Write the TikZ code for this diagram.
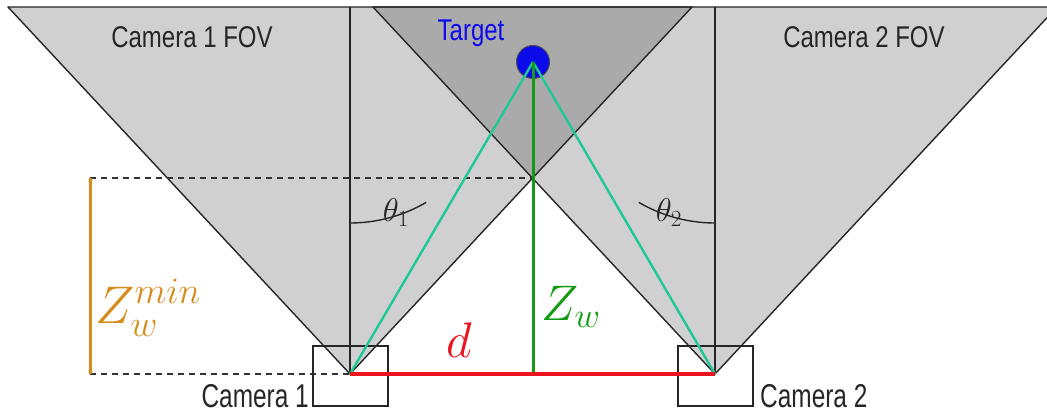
\RequirePackage{fix-cm}
\documentclass[tikz,border=0pt]{standalone}
\usepackage{fontspec}
\usetikzlibrary{calc}
\newfontfamily\lab{Liberation Sans}[FakeStretch=0.8]
\newfontfamily\labn{Liberation Sans}[FakeStretch=0.74]
\definecolor{lgrey}{RGB}{208,208,208}
\definecolor{dgrey}{RGB}{170,170,170}
\definecolor{teal2}{RGB}{32,200,150}
\definecolor{grn}{RGB}{20,155,20}
\definecolor{rd}{RGB}{235,20,30}
\definecolor{orng}{RGB}{214,140,28}
\definecolor{blu}{RGB}{10,10,235}
\tikzset{
  edge/.style={draw=black!85, line width=1.4pt},
  dashln/.style={draw=black!80, line width=1.2pt, dash pattern=on 6pt off 5pt},
  cambox/.style={draw=black!85, line width=1.2pt},
  ray/.style={draw=teal2, line width=2.4pt},
  toplab/.style={font=\lab\fontsize{30}{30}\selectfont, text=black!85, inner sep=0pt},
  camlab/.style={font=\labn\fontsize{33}{33}\selectfont, text=black!85, inner sep=0pt},
  mathlab/.style={inner sep=0pt}
}
\begin{document}
\begin{tikzpicture}[x=1pt,y=-1pt]
\useasboundingbox (0,0) rectangle (1047,416);
\begin{scope}
\clip (0,0) rectangle (1047,416);
% key points
\coordinate (c1) at (350,374);
\coordinate (c2) at (715,374);
\coordinate (t1l) at (8,7);
\coordinate (t1r) at (692,7);
\coordinate (t2l) at (373,7);
\coordinate (t2r) at (1057,7);
\coordinate (x) at (533,178);
\coordinate (tg) at (533,62);
\coordinate (v1) at (350,7);
\coordinate (v2) at (715,7);
\coordinate (o1) at (90,178);
\coordinate (o2) at (90,374);
\coordinate (b1) at (533,374);
% fills
\fill[lgrey] (c1) -- (t1l) -- (t1r) -- cycle;
\fill[lgrey] (c2) -- (t2l) -- (t2r) -- cycle;
\fill[dgrey] (x) -- (t2l) -- (t1r) -- cycle;
% outlines
\draw[edge, line join=round] (c1) -- (t1l) -- (t1r) -- cycle;
\draw[edge, line join=round] (c2) -- (t2l) -- (t2r) -- cycle;
\draw[edge] (c1) -- (v1);
\draw[edge] (c2) -- (v2);
% dashed
\draw[dashln] (o1) -- (x);
\draw[dashln] (o2) -- (c1);
\draw[draw=orng, line width=3pt] (o1) -- (o2);
% camera boxes
\draw[cambox] (313,346) rectangle (388,406);
\draw[cambox] (678,346) rectangle (753,406);
% angle arcs
\draw[edge] ($(c1)+(0,-151)$) arc[start angle=90, end angle=59.7, radius=151];
\draw[edge] ($(c2)+(0,-151)$) arc[start angle=90, end angle=120.3, radius=151];
% target
\node[circle, draw=black!70, fill=blu, minimum size=33pt, inner sep=0pt, line width=1pt] (target) at (tg) {};
% rays
\draw[ray] (c1) -- (target.center);
\draw[ray] (c2) -- (target.center);
\draw[draw=grn, line width=3pt] (target.center) -- (b1);
\draw[draw=rd, line width=3.2pt] (c1) -- (c2);
\end{scope}
% labels
\node[toplab] (l1) at (192,37) {Camera 1 FOV};
\node[toplab] (l2) at (864,37) {Camera 2 FOV};
\node[toplab, text=blu] (lt) at (471,33) {Target};
\node[camlab, anchor=base east] (lc1) at (309,407) {Camera 1};
\node[camlab, anchor=base west] (lc2) at (760,407) {Camera 2};
\node[mathlab, anchor=base west, text=orng] (lz) at (95,323) {\fontsize{53}{53}\selectfont $Z_w^{min}$};
\node[mathlab, anchor=base west, text=grn] (lzw) at (541,320) {\fontsize{50}{50}\selectfont $Z_w$};
\node[mathlab, anchor=base west, text=rd] (ld) at (446,357) {\fontsize{50}{50}\selectfont $d$};
\node[mathlab, text=black!85] (th1) at (396,213) {\fontsize{33}{33}\selectfont $\theta_1$};
\node[mathlab, text=black!85] (th2) at (669,213) {\fontsize{33}{33}\selectfont $\theta_2$};
\end{tikzpicture}
\end{document}
